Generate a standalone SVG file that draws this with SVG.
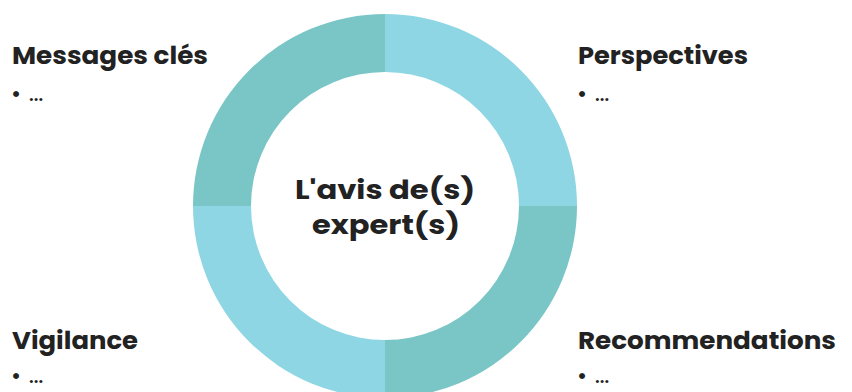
<svg xmlns="http://www.w3.org/2000/svg" width="852" height="392" viewBox="0 0 852 392">
<style>
.h{font-family:Poppins,"Open Sans","Liberation Sans",sans-serif;font-weight:700;font-size:25px;fill:#222}
.b{font-family:Poppins,"Open Sans","Liberation Sans",sans-serif;font-weight:600;font-size:18px;fill:#222}
.bl{font-size:21px}
.c{font-family:Poppins,"Open Sans","Liberation Sans",sans-serif;font-weight:700;font-size:27px;fill:#222;text-anchor:middle}
.dk{fill:#7AC6C6}
.lt{fill:#8ED6E3}
</style>
<rect width="852" height="392" fill="#fff"/>
<g id="ring">
<path class="dk" d="M193 206 A192 192 0 0 1 385 14 L385 72 A134 134 0 0 0 251 206 Z"/>
<path class="lt" d="M385 14 A192 192 0 0 1 577 206 L519 206 A134 134 0 0 0 385 72 Z"/>
<path class="dk" d="M577 206 A192 192 0 0 1 385 398 L385 340 A134 134 0 0 0 519 206 Z"/>
<path class="lt" d="M385 398 A192 192 0 0 1 193 206 L251 206 A134 134 0 0 0 385 340 Z"/>
</g>
<g id="center">
<text class="c" x="385" y="199" textLength="180" lengthAdjust="spacingAndGlyphs">L'avis de(s)</text>
<text class="c" x="386" y="234" textLength="148" lengthAdjust="spacingAndGlyphs">expert(s)</text>
</g>
<g id="messages">
<text class="h" x="12" y="64" textLength="196" lengthAdjust="spacingAndGlyphs">Messages clés</text>
<text class="b" x="11" y="101"><tspan class="bl">•</tspan><tspan dx="8">...</tspan></text>
</g>
<g id="perspectives">
<text class="h" x="578" y="64" textLength="170" lengthAdjust="spacingAndGlyphs">Perspectives</text>
<text class="b" x="577" y="101"><tspan class="bl">•</tspan><tspan dx="8">...</tspan></text>
</g>
<g id="vigilance">
<text class="h" x="12" y="349" textLength="126" lengthAdjust="spacingAndGlyphs">Vigilance</text>
<text class="b" x="11" y="383"><tspan class="bl">•</tspan><tspan dx="8">...</tspan></text>
</g>
<g id="recommendations">
<text class="h" x="578" y="349" textLength="258" lengthAdjust="spacingAndGlyphs">Recommendations</text>
<text class="b" x="577" y="383"><tspan class="bl">•</tspan><tspan dx="8">...</tspan></text>
</g>
</svg>
